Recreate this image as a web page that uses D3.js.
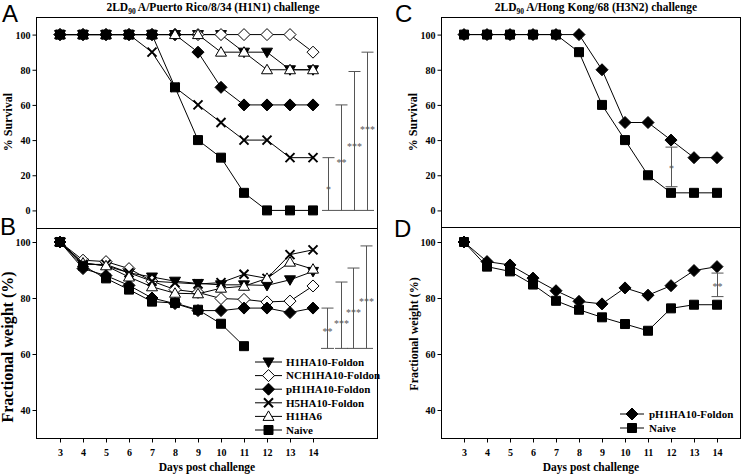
<!DOCTYPE html>
<html><head><meta charset="utf-8">
<script src="https://cdn.jsdelivr.net/npm/d3@7"></script>
<style>
body{margin:0;background:#fff}
svg{display:block}
text{font-family:"Liberation Serif","Times New Roman",serif;font-weight:bold;fill:#000}
</style>
</head><body>
<svg id="chart" width="744" height="475"></svg>
<script>
// ---------------- DATA ----------------
const days = [3,4,5,6,7,8,9,10,11,12,13,14];
const xTicks = [3,4,5,6,7,8,9,10,11,12,13,14];
const survTicks = [0,20,40,60,80,100];
const weightTicks = [40,60,80,100];

const seriesNames = ["H1HA10-Foldon","NCH1HA10-Foldon","pH1HA10-Foldon","H5HA10-Foldon","H1HA6","Naive"];
const seriesSymbols = ["triDown","diamondOpen","diamond","cross","triOpen","square"];

// Panel A: % survival, PR8 (H1N1)
const survA_H1HA10   = [100,100,100,100,100,100,100,100,90,90,80,80];
const survA_NCH1HA10 = [100,100,100,100,100,100,100,100,100,100,100,90];
const survA_pH1HA10  = [100,100,100,100,100,100,90,70,60,60,60,60];
const survA_H5HA10   = [100,100,100,100,90,70,60,50,40,40,30,30];
const survA_H1HA6    = [100,100,100,100,100,100,100,90,90,80,80,80];
const survA_Naive    = [100,100,100,100,100,70,40,30,10,0,0,0];

// Panel B: fractional weight (%), PR8
const wB_H1HA10   = [100,92.5,91.5,89,87.5,86,85.2,84.7,84.7,84.5,86.5,89.5];
const wB_NCH1HA10 = [100,93.5,93,90.5,86,83,82,79.8,79.5,78.6,78.9,84.3];
const wB_pH1HA10  = [100,90.5,88,84.5,80,78,75.5,75.5,76.4,76.4,74.8,76.4];
const wB_H5HA10   = [100,92,92,89,86,85.5,85,85.5,88.5,87,95.5,97.2];
const wB_H1HA6    = [100,92.5,91.5,87.5,84,81.7,81.5,83.5,84.2,87,92.8,90.3];
const wB_Naive    = [100,91.5,87,83,78.7,78.2,75.8,70.8,62.8];

// Panel C: % survival, HK68 (H3N2)
const survC_pH1HA10 = [100,100,100,100,100,100,80,50,50,40,30,30];
const survC_Naive   = [100,100,100,100,100,90,60,40,20,10,10,10];

// Panel D: fractional weight (%), HK68
const wD_pH1HA10 = [100,93,91.8,87.1,82.6,78.8,77.9,83.6,81,84.4,89.8,91.2];
const wD_Naive   = [100,91.2,89.5,84.8,79,75.8,73.1,70.7,68.3,76.3,77.6,77.6];

// significance brackets (x in days, y in data units)
const bracketsA = [
  {x:14.65, y0:0, y1:30, label:"*",   ly:13},
  {x:15.22, y0:0, y1:60, label:"**",  ly:28},
  {x:15.78, y0:0, y1:79, label:"***", ly:37},
  {x:16.35, y0:0, y1:90, label:"***", ly:47}
];
const bracketsB = [
  {x:14.6,  y0:62, y1:76.4, label:"**",  ly:68.6},
  {x:15.22, y0:62, y1:85.7, label:"***", ly:71.4},
  {x:15.76, y0:62, y1:90.7, label:"***", ly:75.3},
  {x:16.3,  y0:62, y1:98.6, label:"***", ly:79.3}
];
const bracketsC = [{x:12, y0:13.5, y1:36, label:"*", ly:24.5}];
const bracketsD = [{x:14, y0:80.5, y1:88.9, label:"**", ly:84.7}];

// ---------------- DRAW ----------------
const svg = d3.select("#chart");

function symPath(t){
  switch(t){
    case "square": return "M-4.5,-4.5h9v9h-9Z";
    case "diamond": case "diamondOpen": return "M0,-6L6,0L0,6L-6,0Z";
    case "triDown": return "M-5.5,-4L5.5,-4L0,5.5Z";
    case "triOpen": return "M0,-5.5L5.5,4L-5.5,4Z";
    case "cross": return "M-4.5,-4.5L4.5,4.5M-4.5,4.5L4.5,-4.5";
  }
}
function symFill(t){ return (t==="diamondOpen"||t==="triOpen") ? "#fff" : (t==="cross" ? "none" : "#000"); }

function drawMarker(g, t, x, y){
  g.append("path").attr("d", symPath(t)).attr("transform", `translate(${x},${y})`)
    .attr("fill", symFill(t)).attr("stroke", "#000")
    .attr("stroke-width", t==="cross" ? 2 : 1);
}

function drawSeries(g, x, y, vals, sym){
  const pts = vals.map((v,i)=>[days[i], v]);
  g.append("path").datum(pts)
    .attr("d", d3.line().x(d=>x(d[0])).y(d=>y(d[1])))
    .attr("fill","none").attr("stroke","#000").attr("stroke-width",1);
  pts.forEach(p=>drawMarker(g, sym, x(p[0]), y(p[1])));
}

function drawFrame(x0,x1,y0,y1){
  svg.append("rect").attr("x",x0+0.5).attr("y",y0+0.5).attr("width",x1-x0).attr("height",y1-y0)
    .attr("fill","none").attr("stroke","#000").attr("stroke-width",1);
}

function yAxis(x0, yScale, ticks){
  const g = svg.append("g").attr("transform",`translate(${x0+0.5},0)`)
    .call(d3.axisLeft(yScale).tickValues(ticks).tickSize(4).tickPadding(2));
  g.select(".domain").remove();
  g.selectAll("text").style("font-size","10px").attr("dy","0.35em");
}
function xAxis(y0, xScale){
  const g = svg.append("g").attr("transform",`translate(0,${y0+0.5})`)
    .call(d3.axisBottom(xScale).tickValues(xTicks).tickSize(4).tickPadding(6));
  g.select(".domain").remove();
  g.selectAll("text").style("font-size","10px");
}

function drawBrackets(g, x, y, list, bottomMerge){
  list.forEach(b=>{
    const bx = Math.round(x(b.x))+0.5, ya = y(b.y1), yb = y(b.y0);
    g.append("line").attr("x1",bx).attr("x2",bx).attr("y1",ya).attr("y2",yb).attr("stroke","#555");
    g.append("line").attr("x1",bx-6).attr("x2",bx+6).attr("y1",ya).attr("y2",ya).attr("stroke","#555");
    g.append("line").attr("x1",bx-(bottomMerge?6.5:6)).attr("x2",bx+(bottomMerge?6.5:6)).attr("y1",yb).attr("y2",yb).attr("stroke","#555");
    g.append("text").attr("x",bx).attr("y",y(b.ly)+5).attr("text-anchor","middle")
      .style("font-size","10px").style("font-weight","normal").style("fill","#555").text(b.label);
  });
}

function yTitle(x, y, txt, size){
  svg.append("text").attr("transform",`translate(${x},${y}) rotate(-90)`)
    .attr("text-anchor","middle").attr("dy","0.35em").style("font-size",size+"px").text(txt);
}

function title(x, y, before, sub, after){
  const t = svg.append("text").attr("x",x).attr("y",y).attr("text-anchor","middle").style("font-size","11.5px");
  t.append("tspan").text(before);
  t.append("tspan").attr("dy",3).style("font-size","7.5px").text(sub);
  t.append("tspan").attr("dy",-3).text(after);
}

function panelLetter(x, y, l){
  svg.append("text").attr("x",x).attr("y",y)
    .style("font-family","'Liberation Sans',Arial,sans-serif").style("font-weight","normal")
    .style("font-size","24px").text(l);
}

// scales
const xL = d3.scaleLinear().domain([2, 16.8]).range([37, 377.4]);
const xR = d3.scaleLinear().domain([2, 15.05]).range([441, 741.15]);
const ySurv = d3.scaleLinear().domain([-10, 110]).range([228, 17]);
const yW = d3.scaleLinear().domain([30, 105]).range([438, 228]);

// frames
drawFrame(36, 377, 17, 228);
drawFrame(36, 377, 228, 438);
drawFrame(441, 740, 17, 227);
drawFrame(441, 740, 227, 438);

yAxis(36, ySurv, survTicks);
yAxis(36, yW, weightTicks);
yAxis(441, ySurv, survTicks);
yAxis(441, yW, weightTicks);
xAxis(438, xL);
xAxis(438, xR);

// Panel A
const gA = svg.append("g");
const survA = [survA_H1HA10, survA_NCH1HA10, survA_pH1HA10, survA_H5HA10, survA_H1HA6, survA_Naive];
survA.forEach((s,i)=>drawSeries(gA, xL, ySurv, s, seriesSymbols[i]));
drawBrackets(gA, xL, ySurv, bracketsA, true);

// Panel B
const gB = svg.append("g");
const wB = [wB_H1HA10, wB_NCH1HA10, wB_pH1HA10, wB_H5HA10, wB_H1HA6, wB_Naive];
wB.forEach((s,i)=>drawSeries(gB, xL, yW, s, seriesSymbols[i]));
drawBrackets(gB, xL, yW, bracketsB, true);

// legend B
seriesNames.forEach((n,i)=>{
  const ly = 362 + i*13.6;
  gB.append("line").attr("x1",255).attr("x2",282).attr("y1",ly).attr("y2",ly).attr("stroke","#000");
  drawMarker(gB, seriesSymbols[i], 268.5, ly);
  gB.append("text").attr("x",286).attr("y",ly).attr("dy","0.35em").style("font-size","11px").text(n);
});

// Panel C
const gC = svg.append("g");
drawSeries(gC, xR, ySurv, survC_pH1HA10, "diamond");
drawSeries(gC, xR, ySurv, survC_Naive, "square");
drawBrackets(gC, xR, ySurv, bracketsC, false);

// Panel D
const gD = svg.append("g");
drawSeries(gD, xR, yW, wD_pH1HA10, "diamond");
drawSeries(gD, xR, yW, wD_Naive, "square");
drawBrackets(gD, xR, yW, bracketsD, false);
const legD = [["pH1HA10-Foldon","diamond"],["Naive","square"]];
legD.forEach((d,i)=>{
  const ly = 414 + i*14;
  gD.append("line").attr("x1",620).attr("x2",644).attr("y1",ly).attr("y2",ly).attr("stroke","#000");
  drawMarker(gD, d[1], 632, ly);
  gD.append("text").attr("x",649).attr("y",ly).attr("dy","0.35em").style("font-size","11px").text(d[0]);
});

// titles & labels
title(213, 10.5, "2LD", "90", " A/Puerto Rico/8/34 (H1N1) challenge");
title(596, 10.5, "2LD", "90", " A/Hong Kong/68 (H3N2) challenge");
yTitle(7.5, 122, "% Survival", 12);
yTitle(7.5, 347, "Fractional weight (%)", 16);
yTitle(413, 122, "% Survival", 12);
yTitle(414, 334, "Fractional weight (%)", 12);
svg.append("text").attr("x",207).attr("y",471).attr("text-anchor","middle").style("font-size","11.5px").text("Days post challenge");
svg.append("text").attr("x",591).attr("y",471).attr("text-anchor","middle").style("font-size","11.5px").text("Days post challenge");

panelLetter(2, 22, "A");
panelLetter(0, 235, "B");
panelLetter(395, 22, "C");
panelLetter(394, 237, "D");
</script>
</body></html>
